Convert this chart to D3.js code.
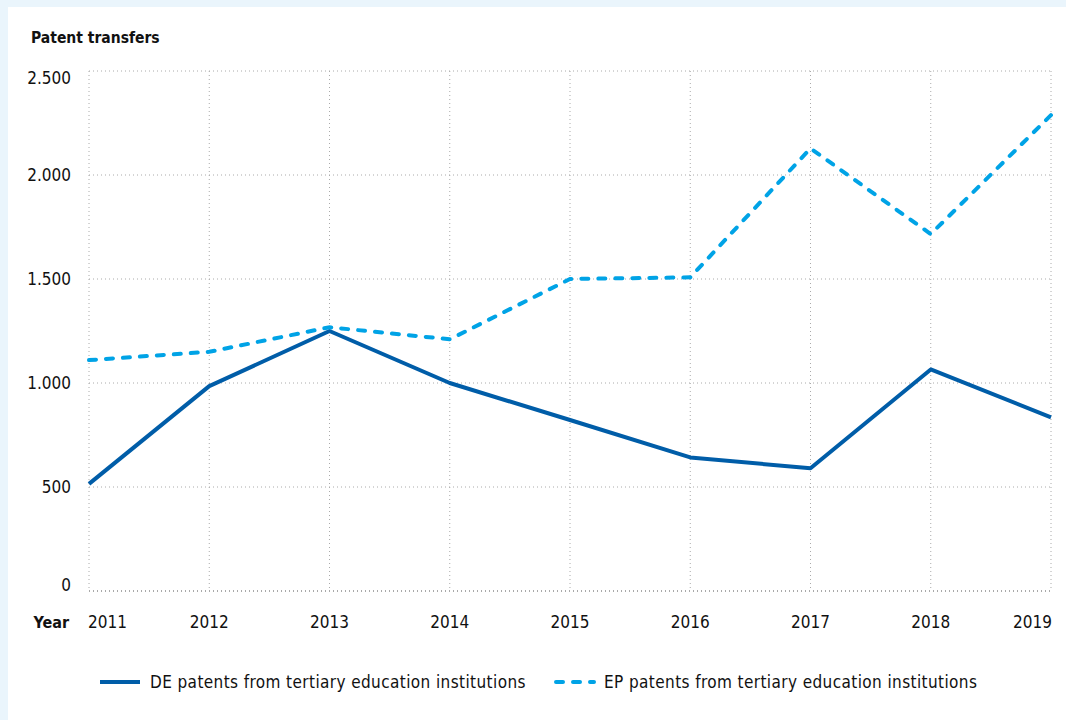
<!DOCTYPE html>
<html>
<head>
<meta charset="utf-8">
<script src="https://cdn.jsdelivr.net/npm/d3@7"></script>
<style>
  body { margin: 0; background: #eaf5fc; }
  svg { display: block; font-family: "DejaVu Sans Condensed", "DejaVu Sans", sans-serif; }
</style>
</head>
<body>
<div id="chart"></div>
<script>
var years = [2011, 2012, 2013, 2014, 2015, 2016, 2017, 2018, 2019];
var deValues = [515, 985, 1250, 1000, 822, 642, 590, 1065, 835];
var epValues = [1110, 1150, 1268, 1210, 1500, 1508, 2128, 1716, 2288];
var yTicks = [0, 500, 1000, 1500, 2000, 2500];
var seriesNames = ["DE patents from tertiary education institutions", "EP patents from tertiary education institutions"];

var chartWidth = 1066, chartHeight = 720;
var margin = {top: 71, right: 15, bottom: 129, left: 89};
var width = chartWidth - margin.left - margin.right,
    height = chartHeight - margin.top - margin.bottom;

var svg = d3.select("#chart").append("svg")
    .attr("width", chartWidth)
    .attr("height", chartHeight);

// white panel on light blue page
svg.append("rect")
    .attr("x", 8).attr("y", 7)
    .attr("width", chartWidth - 8).attr("height", chartHeight - 7)
    .attr("fill", "white");

var x = d3.scaleLinear().domain([2011, 2019]).range([0, width]),
    y = d3.scaleLinear().domain([0, 2500]).range([height, 0]);

var g = svg.append("g")
    .attr("transform", "translate(" + margin.left + "," + margin.top + ")");

// grid
g.selectAll(".hgrid")
  .data(yTicks)
  .enter().append("line")
    .attr("class", "hgrid")
    .attr("x1", 0).attr("x2", width)
    .attr("y1", function(d) { return y(d); })
    .attr("y2", function(d) { return y(d); })
    .attr("stroke", function(d) { return d === 0 ? "#555" : "#aaa"; })
    .attr("stroke-width", 1)
    .attr("stroke-dasharray", "1,3");

g.selectAll(".vgrid")
  .data(years)
  .enter().append("line")
    .attr("class", "vgrid")
    .attr("x1", function(d) { return x(d); })
    .attr("x2", function(d) { return x(d); })
    .attr("y1", 0).attr("y2", height)
    .attr("stroke", "#aaa")
    .attr("stroke-width", 1)
    .attr("stroke-dasharray", "1,3");

// y labels (top and bottom ones are nudged inside the plot, as in the original)
var fmt = function(d) { return d3.format(",")(d).replace(/,/g, "."); };
g.selectAll(".ylab")
  .data(yTicks)
  .enter().append("text")
    .attr("class", "ylab")
    .attr("x", -18)
    .attr("y", function(d, i) {
      var off = i === 0 ? -6 : (i === yTicks.length - 1 ? 7 : 0);
      return y(d) + off;
    })
    .attr("dy", "0.35em")
    .attr("text-anchor", "end")
    .attr("font-size", 17)
    .attr("fill", "#111")
    .text(fmt);

// x labels
g.selectAll(".xlab")
  .data(years)
  .enter().append("text")
    .attr("class", "xlab")
    .attr("x", function(d, i) { return i === 0 ? x(d) - 1 : (i === years.length - 1 ? x(d) + 1 : x(d)); })
    .attr("y", height + 31)
    .attr("dy", "0.35em")
    .attr("text-anchor", function(d, i) { return i === 0 ? "start" : (i === years.length - 1 ? "end" : "middle"); })
    .attr("font-size", 17)
    .attr("fill", "#111")
    .text(function(d) { return d; });

g.append("text")
    .attr("x", -20)
    .attr("y", height + 31)
    .attr("dy", "0.35em")
    .attr("text-anchor", "end")
    .attr("font-size", 16)
    .attr("font-weight", "bold")
    .attr("fill", "#111")
    .text("Year");

svg.append("text")
    .attr("x", 31)
    .attr("y", 38)
    .attr("dy", "0.35em")
    .attr("font-size", 15.5)
    .attr("font-weight", "bold")
    .attr("fill", "#111")
    .text("Patent transfers");

var line = d3.line()
    .x(function(d, i) { return x(years[i]); })
    .y(function(d) { return y(d); });

g.append("path")
    .datum(deValues)
    .attr("d", line)
    .attr("fill", "none")
    .attr("stroke", "#005da8")
    .attr("stroke-width", 4)
    .attr("stroke-linejoin", "round");

g.append("path")
    .datum(epValues)
    .attr("d", line)
    .attr("fill", "none")
    .attr("stroke", "#00a3e6")
    .attr("stroke-width", 4)
    .attr("stroke-linecap", "round")
    .attr("stroke-dasharray", "7,10");

// legend
var legend = svg.append("g").attr("transform", "translate(0,682)");
var legendItems = [
  {x: 100, name: seriesNames[0], color: "#005da8", dash: null, cap: "butt"},
  {x: 554, name: seriesNames[1], color: "#00a3e6", dash: "7,10", cap: "round"}
];
legendItems.forEach(function(d) {
  legend.append("line")
    .attr("x1", d.x + (d.dash ? 2 : 0)).attr("x2", d.x + 40)
    .attr("y1", 0).attr("y2", 0)
    .attr("stroke", d.color)
    .attr("stroke-width", 4)
    .attr("stroke-linecap", d.cap)
    .attr("stroke-dasharray", d.dash);
  legend.append("text")
    .attr("x", d.x + 50)
    .attr("y", 0)
    .attr("dy", "0.35em")
    .attr("font-size", 17)
    .attr("letter-spacing", "0.4px")
    .attr("fill", "#111")
    .text(d.name);
});
</script>
</body>
</html>
